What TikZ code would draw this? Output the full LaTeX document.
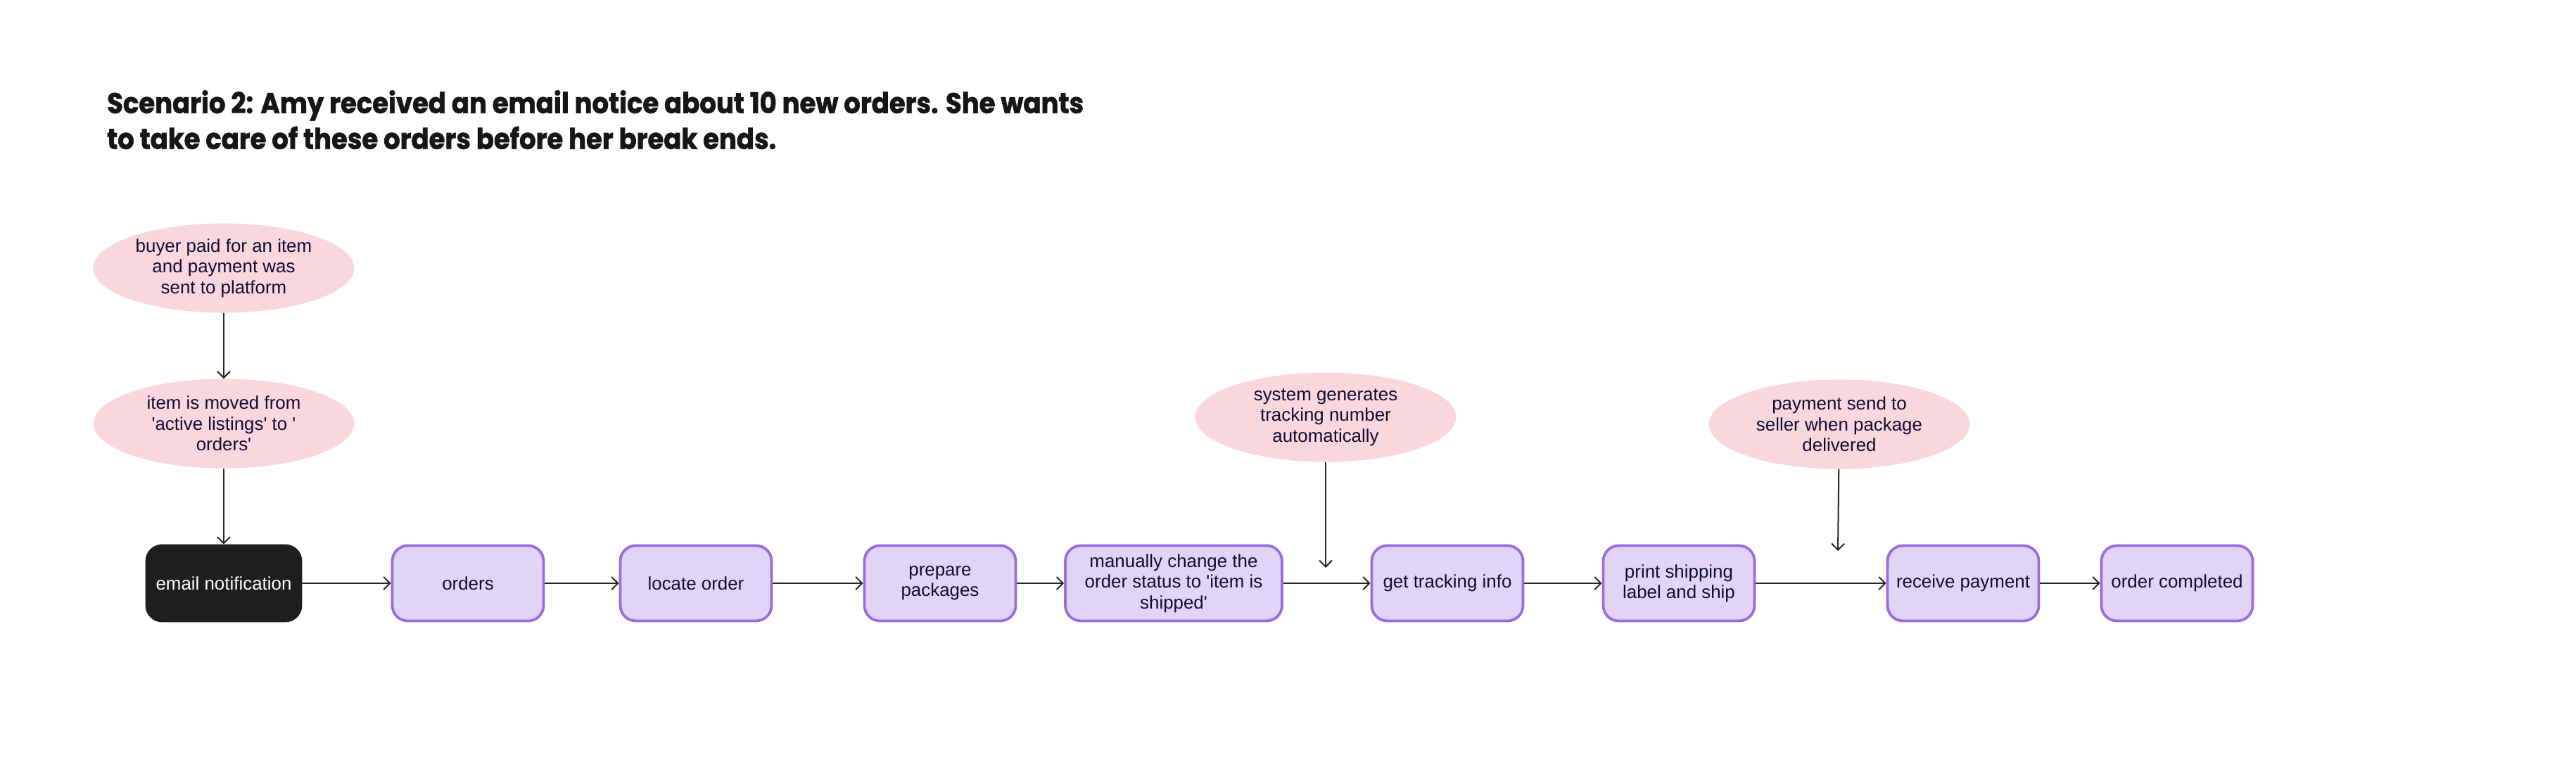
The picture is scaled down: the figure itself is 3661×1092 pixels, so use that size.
\documentclass[tikz,border=0pt]{standalone}
\usepackage{fontspec}
\setmainfont{Liberation Sans}
\newfontfamily\titlefont{Poppins}[BoldFeatures={FakeBold=1.6}]
\usetikzlibrary{shapes.geometric,arrows.meta}
\definecolor{pinkfill}{HTML}{FAD7DD}
\definecolor{lavfill}{HTML}{E1D5F7}
\definecolor{lavdraw}{HTML}{9B6BDF}
\definecolor{navy}{HTML}{0F0C33}
\definecolor{blackbox}{HTML}{1E1E1E}
\definecolor{titleblack}{HTML}{161616}
\begin{document}
\begin{tikzpicture}[x=1bp,y=-1bp,
  every node/.style={font=\fontsize{26}{29.5}\selectfont, text=navy},
  stepbox/.style={rectangle, rounded corners=22bp, draw=lavdraw, line width=3.8bp, fill=lavfill,
    minimum width=215bp, minimum height=107bp, align=center, inner sep=0pt},
  darkbox/.style={stepbox, fill=blackbox, draw=blackbox, text=white, minimum width=219bp},
  note/.style={ellipse, fill=pinkfill, minimum width=371bp, minimum height=127bp, inner sep=0pt, align=center},
  flow/.style={draw=black!85, line width=2bp, -{Straight Barb[length=9bp,width=18bp,line width=2bp]}}
]
\fill[white] (0,0) rectangle (3661,1092);
\useasboundingbox (0,0) rectangle (3661,1092);

\node[anchor=north west, inner sep=0pt, text=titleblack] (title) at (152,125)
  {\scalebox{1}[1.1]{\resizebox{1388bp}{!}{\titlefont\bfseries\fontsize{40}{50}\selectfont
   \begin{tabular}{@{}l@{}}Scenario 2: Amy received an email notice about 10 new orders. She wants\\
   to take care of these orders before her break ends.\end{tabular}}}};

\node[note] (n1) at (318,381) {buyer paid for an item\\and payment was\\sent to platform};
\node[note] (n2) at (318,602) {item is moved from\\\textquotesingle active listings\textquotesingle\ to \textquotesingle\\orders\textquotesingle};
\node[note] (n3) at (1884,593) {system generates\\tracking number\\automatically};
\node[note] (n4) at (2614,603) {payment send to\\seller when package\\delivered};

\node[darkbox] (b0) at (318,829) {email notification};
\node[stepbox] (b1) at (665,829) {orders};
\node[stepbox] (b2) at (989,829) {locate order};
\node[stepbox] (b3) at (1336,829) {prepare\\packages};
\node[stepbox, minimum width=308bp] (b4) at (1668,829) {manually change the\\order status to \textquotesingle item is\\shipped\textquotesingle};
\node[stepbox] (b5) at (2057,829) {get tracking info};
\node[stepbox] (b6) at (2386,829) {print shipping\\label and ship};
\node[stepbox] (b7) at (2790,829) {receive payment};
\node[stepbox] (b8) at (3094,829) {order completed};

\coordinate (t3) at (1884,807);
\coordinate (t4) at (2612,783);

\draw[flow] (n1) -- (n2);
\draw[flow] (n2) -- (b0);
\draw[flow] (n3) -- (t3);
\draw[flow] (n4) -- (t4);
\draw[flow] (b0) -- (b1);
\draw[flow] (b1) -- (b2);
\draw[flow] (b2) -- (b3);
\draw[flow] (b3) -- (b4);
\draw[flow] (b4) -- (b5);
\draw[flow] (b5) -- (b6);
\draw[flow] (b6) -- (b7);
\draw[flow] (b7) -- (b8);
\end{tikzpicture}
\end{document}
